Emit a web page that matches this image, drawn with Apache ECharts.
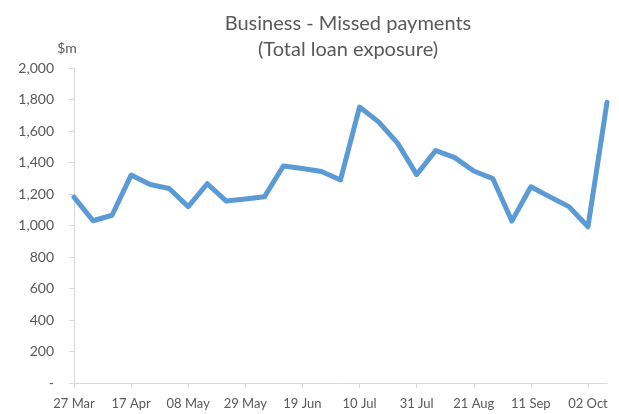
<!DOCTYPE html>
<html>
<head>
<meta charset="utf-8">
<script src="https://cdn.jsdelivr.net/npm/echarts@6/dist/echarts.min.js"></script>
<style>
html,body{margin:0;padding:0;background:#fff;}
#chart{width:619px;height:414px;}
</style>
</head>
<body>
<div id="chart"></div>
<script>
const titleLines = ["Business - Missed payments", "(Total loan exposure)"];
const unitLabel = "$m";
const categories = ["27 Mar","03 Apr","10 Apr","17 Apr","24 Apr","01 May","08 May","15 May","22 May","29 May","05 Jun","12 Jun","19 Jun","26 Jun","03 Jul","10 Jul","17 Jul","24 Jul","31 Jul","07 Aug","14 Aug","21 Aug","28 Aug","04 Sep","11 Sep","18 Sep","25 Sep","02 Oct","09 Oct"];
const missedPayments = [1180,1030,1065,1320,1260,1235,1120,1265,1155,1168,1182,1378,1362,1343,1289,1752,1658,1523,1323,1476,1431,1346,1298,1028,1246,1182,1120,992,1782];
const yMin = 0, yMax = 2000, yStep = 200;

const font = 'Lato, "Open Sans", sans-serif';
const chart = echarts.init(document.getElementById('chart'), null, {renderer: 'canvas'});
chart.setOption({
  animation: false,
  backgroundColor: '#ffffff',
  title: [{
    text: titleLines.join('\n'),
    left: 343, top: 6, textAlign: 'center',
    textStyle: {fontFamily: font, fontSize: 20, fontWeight: 'normal', color: '#595959', lineHeight: 26}
  }, {
    text: unitLabel,
    left: 62, top: 36, textAlign: 'center',
    textStyle: {fontFamily: font, fontSize: 14, fontWeight: 'normal', color: '#595959'}
  }],
  grid: {left: 74, right: 12, top: 68, bottom: 31, containLabel: false},
  xAxis: {
    type: 'category',
    data: categories,
    boundaryGap: false,
    axisLine: {show: true, lineStyle: {color: '#d9d9d9', width: 1}},
    axisTick: {show: true, interval: 2, length: 5, lineStyle: {color: '#d9d9d9'}},
    axisLabel: {interval: 2, color: '#595959', fontFamily: font, fontSize: 13, margin: 14},
    splitLine: {show: false}
  },
  yAxis: {
    type: 'value',
    min: yMin, max: yMax, interval: yStep,
    axisLine: {show: true, lineStyle: {color: '#d9d9d9', width: 1}},
    axisTick: {show: true, length: 5, lineStyle: {color: '#d9d9d9'}},
    axisLabel: {
      color: '#595959', fontFamily: font, fontSize: 14, margin: 20,
      formatter: v => v === 0 ? '-' : v.toLocaleString('en-US')
    },
    splitLine: {show: false}
  },
  series: [{
    type: 'line',
    data: missedPayments,
    symbol: 'none',
    smooth: false,
    lineStyle: {color: '#5b9bd5', width: 5, cap: 'round', join: 'round'}
  }]
});
</script>
</body>
</html>
